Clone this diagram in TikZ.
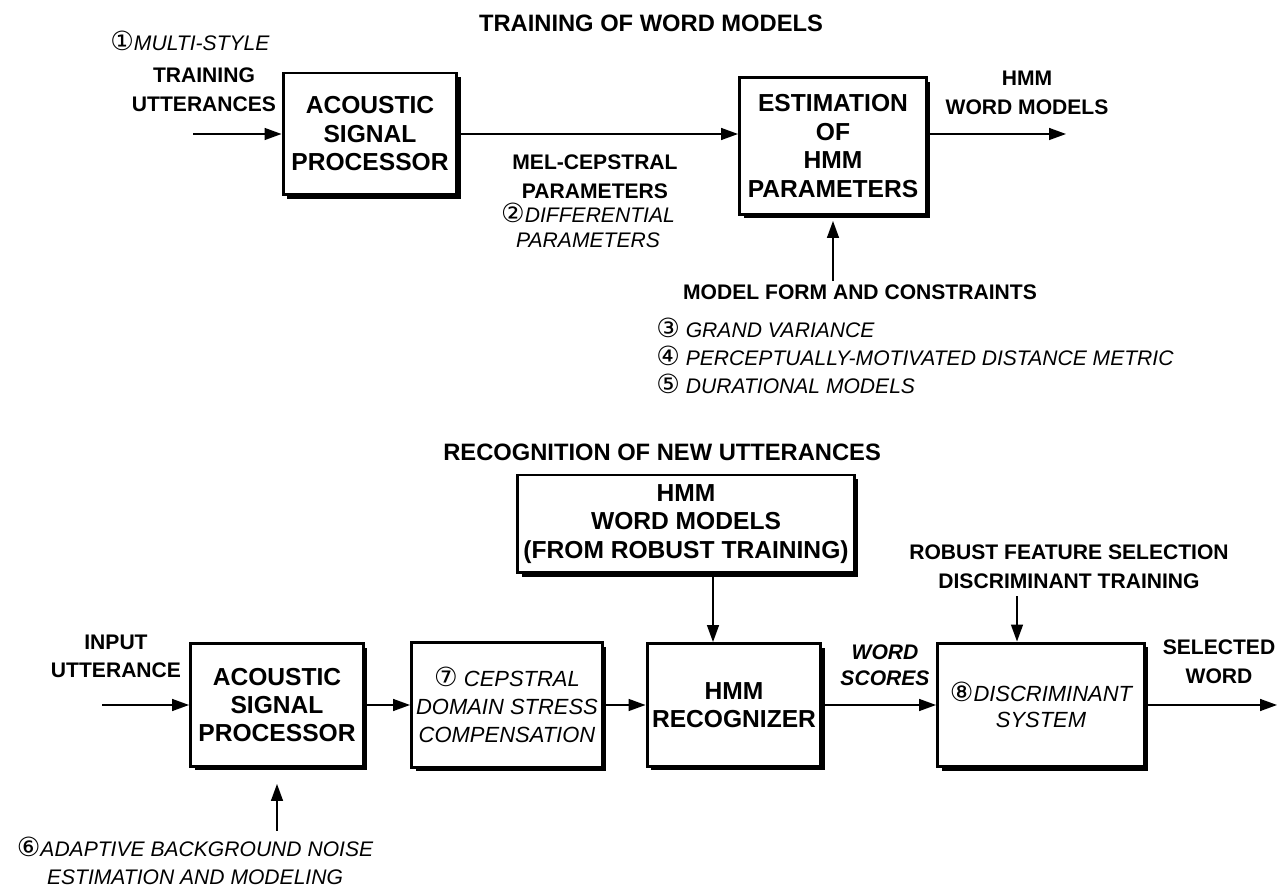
\documentclass[tikz,border=0pt]{standalone}
\usepackage{fontspec}
\setmainfont{Liberation Sans}
\newfontfamily\circfont{DejaVu Sans}
\usetikzlibrary{arrows.meta,shadows}
\newcommand{\cnum}[1]{{\circfont\upshape\fontsize{15}{15}\selectfont #1}}

\begin{document}
\begin{tikzpicture}[x=0.02cm,y=-0.02cm]
		\tikzstyle{bloc} = [draw,line width=1.7pt,fill=white,align=center,inner sep=0pt,font=\fontsize{14}{16.2}\selectfont\bfseries,drop shadow={shadow xshift=0.08cm,shadow yshift=-0.08cm,opacity=1,fill=black}];
		\tikzstyle{etiq} = [align=center,inner sep=0pt,font=\fontsize{12}{16.4}\selectfont\bfseries];
		\tikzstyle{note} = [align=left,inner sep=0pt,font=\fontsize{12}{15.9}\selectfont\itshape];
		\tikzstyle{fleche} = [-{Triangle[length=0.34cm,width=0.24cm]},line width=0.85pt];
		
		\useasboundingbox (0,0) rectangle (1279,891);
		
		% training
		\node[etiq,font=\fontsize{13.5}{16}\selectfont\bfseries] (titreA) at (651,23) {TRAINING OF WORD MODELS};
		\node[note,anchor=west] (multi) at (110,41) {\cnum{①}MULTI-STYLE};
		\node[etiq] (trainutt) at (204,90) {TRAINING\\UTTERANCES};
		\node[bloc,minimum width=3.48cm,minimum height=2.44cm] (asp1) at (370,134) {ACOUSTIC\\SIGNAL\\PROCESSOR};
		\node[bloc,minimum width=3.74cm,minimum height=2.74cm] (est) at (833,146) {ESTIMATION\\OF\\HMM\\PARAMETERS};
		\node[etiq] (melcep) at (595,177) {MEL-CEPSTRAL\\PARAMETERS};
		\node[note,align=center,font=\fontsize{12}{14.2}\selectfont\itshape] (diff) at (588,225) {\cnum{②}DIFFERENTIAL\\PARAMETERS};
		\node[etiq] (hmmout) at (1027,93) {HMM\\WORD MODELS};
		\node[etiq] (mfc) at (860,292) {MODEL FORM AND CONSTRAINTS};
		\node[note,anchor=north west] (liste) at (656,318) {\cnum{③} GRAND VARIANCE\\\cnum{④} PERCEPTUALLY-MOTIVATED DISTANCE METRIC\\\cnum{⑤} DURATIONAL MODELS};
		
		\coordinate (inA) at (193,134);
		\coordinate (outA) at (1066,134);
		\draw[fleche] (inA) -- (asp1.west);
		\draw[fleche] (asp1.east) -- (asp1.east -| est.west);
		\draw[fleche] (est.east |- asp1) -- (outA);
		\draw[fleche,shorten <=0.06cm,shorten >=0.1cm] (mfc.north -| est) -- (est.south);
		
		% recognition
		\node[etiq,anchor=west,font=\fontsize{13.5}{16}\selectfont\bfseries] (titreB) at (443,452) {RECOGNITION OF NEW UTTERANCES};
		\node[bloc,minimum width=6.74cm,minimum height=1.96cm] (hmmw) at (686,524) {HMM\\WORD MODELS\\(FROM ROBUST TRAINING)};
		\node[etiq,font=\fontsize{12}{15.9}\selectfont\bfseries] (input) at (116,656) {INPUT\\UTTERANCE};
		\node[bloc,minimum width=3.46cm,minimum height=2.46cm] (asp2) at (277,705) {ACOUSTIC\\SIGNAL\\PROCESSOR};
		\node[bloc,minimum width=3.82cm,minimum height=2.5cm,font=\fontsize{12.5}{16}\selectfont\itshape] (comp) at (507,705) {\cnum{⑦} CEPSTRAL\\DOMAIN STRESS\\COMPENSATION};
		\node[bloc,minimum width=3.48cm,minimum height=2.46cm] (rec) at (734,705) {HMM\\RECOGNIZER};
		\node[bloc,minimum width=4.14cm,minimum height=2.48cm,font=\fontsize{12.5}{14.5}\selectfont\itshape] (disc) at (1041,705) {\cnum{⑧}DISCRIMINANT\\SYSTEM};
		\node[etiq,font=\fontsize{12}{14.8}\selectfont\bfseries\itshape] (scores) at (885,665) {WORD\\SCORES};
		\node[etiq] (rfs) at (1069,567) {ROBUST FEATURE SELECTION\\DISCRIMINANT TRAINING};
		\node[etiq] (selw) at (1219,662) {SELECTED\\WORD};
		\node[note,align=center] (bruit) at (195,861) {\cnum{⑥}ADAPTIVE BACKGROUND NOISE\\ESTIMATION AND MODELING};
		
		\coordinate (inB) at (102,705);
		\coordinate (outB) at (1277,705);
		\draw[fleche] (inB) -- (asp2.west);
		\draw[fleche] (asp2.east) -- (comp.west);
		\draw[fleche] (comp.east) -- (rec.west);
		\draw[fleche] (rec.east) -- (disc.west);
		\draw[fleche] (disc.east) -- (outB);
		\draw[fleche] (hmmw.south -| 713,0) -- (rec.north -| 713,0);
		\draw[fleche,shorten <=0.14cm] (rfs.south -| 1017,0) -- (disc.north -| 1017,0);
		\draw[fleche,shorten <=0.12cm,shorten >=0.32cm] (bruit.north -| asp2) -- (asp2.south);
		
	\end{tikzpicture}
\end{document}
